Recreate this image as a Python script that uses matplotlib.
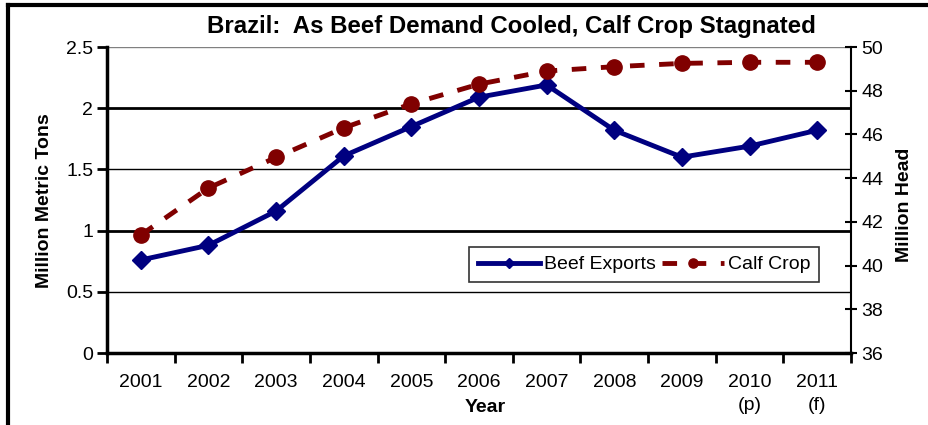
import matplotlib
matplotlib.use("Agg")
import matplotlib.pyplot as plt
from matplotlib.lines import Line2D
import numpy as np

plt.rcParams["font.family"] = ["Liberation Sans", "DejaVu Sans"]

years = ["2001", "2002", "2003", "2004", "2005", "2006", "2007", "2008", "2009", "2010\n(p)", "2011\n(f)"]
beef_exports = [0.76, 0.88, 1.16, 1.61, 1.85, 2.09, 2.19, 1.82, 1.60, 1.69, 1.82]
calf_crop = [41.4, 43.55, 44.95, 46.3, 47.4, 48.3, 48.9, 49.1, 49.25, 49.3, 49.3]

navy = "#000080"
maroon = "#800000"

fig = plt.figure(figsize=(9.29, 4.25), dpi=100)
ax = fig.add_axes([0.1152, 0.1694, 0.8008, 0.72])
ax2 = ax.twinx()

x = np.arange(len(years))

# gridlines (2 and 1 look heavier in the original)
for v, lw, c in [(0.5, 1.0, "black"), (1.0, 2.0, "black"), (1.5, 1.0, "black"), (2.0, 2.0, "black"), (2.5, 1.0, "#808080")]:
	ax.axhline(v, color=c, lw=lw, zorder=0)

l1, = ax.plot(x, beef_exports, color=navy, lw=3.5, marker="D", ms=9, label="Beef Exports", zorder=3)
l2, = ax2.plot(x, calf_crop, color=maroon, lw=3.5, ls=(0, (3, 3)), marker="o", ms=11, label="Calf Crop", zorder=3)

ax.set_xlim(-0.5, len(years) - 0.5)
ax.set_ylim(0, 2.5)
ax2.set_ylim(36, 50)
ax.set_yticks([0, 0.5, 1, 1.5, 2, 2.5])
ax.set_yticklabels(["0", "0.5", "1", "1.5", "2", "2.5"])
ax2.set_yticks(range(36, 51, 2))

ax.set_xticks(x)
ax.set_xticklabels(years, fontsize=14, linespacing=1.5)
ax.set_xticks(np.arange(-0.5, len(years), 1), minor=True)
ax.tick_params(axis="x", which="major", length=0, pad=15)
ax.tick_params(axis="x", which="minor", length=7, width=2, direction="out")
ax.tick_params(axis="y", length=7, width=2, direction="out", labelsize=14, pad=3)
ax2.tick_params(axis="y", length=9, width=1.5, direction="inout", labelsize=14, pad=3)

ax.spines["top"].set_visible(False)
ax2.spines["top"].set_visible(False)
ax.spines["left"].set_linewidth(2.5)
ax.spines["bottom"].set_linewidth(2.5)
ax2.spines["right"].set_linewidth(1.5)
ax2.spines["left"].set_visible(False)
ax2.spines["bottom"].set_visible(False)
ax.spines["right"].set_visible(False)

fig.text(0.0474, 0.529, "Million Metric Tons", fontsize=14, fontweight="bold", rotation=90, ha="center", va="center")
fig.text(0.974, 0.518, "Million Head", fontsize=14, fontweight="bold", rotation=90, ha="center", va="center")
fig.text(0.522, 0.042, "Year", fontsize=14, fontweight="bold", ha="center", va="center")

fig.text(0.55, 0.938, "Brazil:  As Beef Demand Cooled, Calf Crop Stagnated",
	fontsize=17.3, fontweight="bold", ha="center", va="center")

leg = ax2.legend([l1, l2], ["Beef Exports", "Calf Crop"], loc="upper left",
	bbox_to_anchor=(0.4866, 0.346), borderaxespad=0, ncol=2, fontsize=14, frameon=True,
	fancybox=False, edgecolor="black", handlelength=3.2, handletextpad=0.2, columnspacing=0.3,
	borderpad=0.45, markerscale=0.6)
leg.get_frame().set_linewidth(1.2)

# outer frame of the picture
fig.add_artist(Line2D([0.009, 1.0], [0.988, 0.988], color="black", lw=3, transform=fig.transFigure))
fig.add_artist(Line2D([0.009, 0.009], [0.0, 0.988], color="black", lw=3, transform=fig.transFigure))

fig.savefig("out.png", dpi=100)
